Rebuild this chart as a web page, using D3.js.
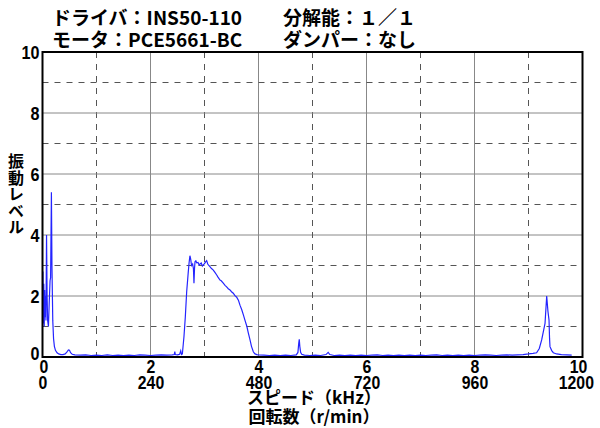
<!DOCTYPE html>
<html><head><meta charset="utf-8">
<script src="https://cdn.jsdelivr.net/npm/d3@7"></script>
<style>body{margin:0;background:#fff}svg{display:block}</style>
</head><body><svg id="c" width="600" height="428"></svg>
<script>
// ---- data ----
const freqKHz = [0.000,0.008,0.016,0.024,0.032,0.040,0.048,0.056,0.064,0.075,0.085,0.095,0.110,0.125,0.140,0.150,0.165,0.175,0.190,0.205,0.220,0.240,0.270,0.300,0.340,0.380,0.420,0.450,0.480,0.500,0.520,0.550,0.600,0.700,0.800,0.900,1.000,1.100,1.200,1.300,1.400,1.500,1.600,1.700,1.800,1.900,2.000,2.100,2.200,2.300,2.400,2.440,2.450,2.460,2.500,2.540,2.560,2.575,2.590,2.620,2.645,2.670,2.700,2.715,2.730,2.745,2.760,2.780,2.795,2.805,2.815,2.824,2.840,2.856,2.880,2.900,2.917,2.940,2.960,2.978,3.000,3.020,3.040,3.060,3.080,3.100,3.130,3.163,3.190,3.226,3.250,3.287,3.310,3.348,3.380,3.410,3.440,3.472,3.500,3.533,3.560,3.596,3.630,3.657,3.690,3.720,3.750,3.785,3.810,3.843,3.870,3.904,3.930,3.967,4.000,4.100,4.200,4.300,4.400,4.500,4.600,4.700,4.730,4.745,4.755,4.765,4.780,4.800,4.850,4.950,5.050,5.150,5.250,5.290,5.320,5.400,5.500,5.600,5.700,5.800,5.900,6.000,6.100,6.200,6.300,6.400,6.500,6.600,6.700,6.800,6.900,7.000,7.100,7.200,7.300,7.400,7.500,7.600,7.700,7.800,7.900,8.000,8.100,8.200,8.300,8.400,8.500,8.600,8.700,8.800,8.900,9.000,9.083,9.150,9.200,9.244,9.306,9.337,9.360,9.380,9.390,9.398,9.430,9.460,9.520,9.610,9.710,9.800,9.900,10.000];
const level = [1.0,2.8,1.1,2.4,1.0,2.2,1.3,2.0,1.2,4.0,2.0,1.2,1.0,1.8,2.5,2.6,5.4,3.0,1.2,0.6,0.35,0.22,0.14,0.10,0.08,0.08,0.10,0.16,0.23,0.22,0.14,0.09,0.07,0.06,0.07,0.05,0.06,0.05,0.07,0.05,0.06,0.05,0.06,0.05,0.07,0.06,0.05,0.06,0.07,0.06,0.07,0.08,0.18,0.08,0.07,0.09,0.20,0.08,0.10,0.67,1.32,2.14,2.80,3.10,3.32,3.20,3.00,3.05,2.90,2.42,2.90,3.12,3.15,3.09,3.10,3.02,3.05,3.08,2.98,3.02,3.06,3.12,3.16,3.05,3.00,2.96,2.90,2.85,2.78,2.69,2.62,2.52,2.50,2.42,2.35,2.30,2.24,2.20,2.14,2.09,2.02,1.96,1.85,1.70,1.55,1.38,1.20,1.00,0.80,0.56,0.35,0.17,0.11,0.08,0.07,0.06,0.05,0.06,0.05,0.06,0.05,0.07,0.15,0.45,0.58,0.35,0.15,0.09,0.06,0.05,0.06,0.05,0.08,0.15,0.08,0.05,0.06,0.05,0.06,0.05,0.06,0.05,0.06,0.07,0.05,0.06,0.05,0.06,0.05,0.06,0.05,0.06,0.05,0.06,0.07,0.05,0.06,0.05,0.06,0.05,0.06,0.05,0.06,0.07,0.06,0.05,0.06,0.07,0.06,0.07,0.08,0.10,0.12,0.14,0.28,0.56,1.10,2.00,1.50,1.21,0.61,0.34,0.21,0.14,0.10,0.08,0.07,0.06];
const xTicksKHz = [0,2,4,6,8,10];
const xTicksRpm = ["0","240","480","720","960","1200"];
const yTicks = [0,2,4,6,8,10];
const titleLeft = ["ドライバ：INS50-110","モータ：PCE5661-BC"];
const titleRight = ["分解能：１／１","ダンパー：なし"];
const yTitle = "振動レベル";
const xTitle1 = "スピード（kHz）";
const xTitle2 = "回転数（r/min）";

// ---- drawing ----
const svg = d3.select("#c");
const L = 42.5, R = 582.5, T = 52, B = 357;
const x = d3.scaleLinear().domain([0,10]).range([L,R]);
const y = d3.scaleLinear().domain([0,10]).range([B,T]);
const numFont = "'Liberation Sans',Arial,sans-serif";
const jpFont = "'Noto Sans CJK JP',sans-serif";

svg.append("rect").attr("width",600).attr("height",428).attr("fill","#fff");

// grid
const g = svg.append("g");
d3.range(1,10).forEach(v=>{
  const dashed = v%2===1;
  g.append("line").attr("x1",x(v)).attr("x2",x(v)).attr("y1",T).attr("y2",B)
    .attr("stroke",dashed?"#555":"#888").attr("stroke-width",1)
    .attr("stroke-dasharray",dashed?"6,6":null);
  g.append("line").attr("x1",L).attr("x2",R).attr("y1",y(v)).attr("y2",y(v))
    .attr("stroke",dashed?"#555":"#888").attr("stroke-width",1)
    .attr("stroke-dasharray",dashed?"6,6":null);
});

// line
svg.append("clipPath").attr("id","clip").append("rect").attr("x",L).attr("y",T).attr("width",R-L).attr("height",B-T);
const data = freqKHz.map((f,i)=>[f,level[i]]);
svg.append("path").datum(data).attr("clip-path","url(#clip)")
  .attr("fill","none").attr("stroke","#2424ff").attr("stroke-width",1.2)
  .attr("d",d3.line().x(d=>x(d[0])).y(d=>y(d[1])));

// frame
svg.append("rect").attr("x",L).attr("y",T).attr("width",R-L).attr("height",B-T)
  .attr("fill","none").attr("stroke","#000").attr("stroke-width",2);

// y axis labels
const ya = svg.append("g").attr("transform",`translate(${L-3},0)`)
  .call(d3.axisLeft(y).tickValues(yTicks).tickSize(0).tickPadding(0).tickFormat(d3.format("d")));
ya.select(".domain").remove();
ya.selectAll("text").attr("font-family",numFont).attr("font-weight","bold")
  .attr("font-size",19).attr("fill","#000").attr("transform","scale(0.85,1)")
  .attr("dy",d=>d===0?"0.12em":"0.36em");

// x axis labels (two rows)
const xa1 = svg.append("g").attr("transform",`translate(0,${B+3.7})`)
  .call(d3.axisBottom(x).tickValues(xTicksKHz).tickSize(0).tickPadding(0).tickFormat(d3.format("d")));
xa1.select(".domain").remove();
const xa2 = svg.append("g").attr("transform",`translate(0,${B+19.7})`)
  .call(d3.axisBottom(x).tickValues(xTicksKHz).tickSize(0).tickPadding(0).tickFormat((d,i)=>xTicksRpm[i]));
xa2.select(".domain").remove();
xa1.selectAll("text").attr("dx",d=>d===10?"-0.28em":(d===0?"0.05em":0));
xa2.selectAll("text").attr("dx",d=>d===10?"-0.42em":0);
[xa1,xa2].forEach(a=>a.selectAll("text").attr("font-family",numFont)
  .attr("font-weight","bold").attr("font-size",18).attr("fill","#000").attr("transform","scale(0.88,1)"));

// titles
const tg = svg.append("g").attr("font-family",jpFont).attr("font-weight","bold").attr("font-size",19).attr("fill","#000");
titleLeft.forEach((t,i)=>tg.append("text").attr("x",52).attr("y",25+i*21.5).text(t));
titleRight.forEach((t,i)=>tg.append("text").attr("x",283).attr("y",25+i*21.5).text(t));

// y title vertical
svg.append("text").attr("x",16).attr("y",153).attr("font-family",jpFont).attr("font-weight","bold")
  .attr("font-size",16).attr("writing-mode","vertical-rl").attr("letter-spacing","0.5px").text(yTitle);

// x titles
svg.append("text").attr("x",314).attr("y",404).attr("text-anchor","middle").attr("font-family",jpFont)
  .attr("font-weight","bold").attr("font-size",17).text(xTitle1);
svg.append("text").attr("x",314).attr("y",423).attr("text-anchor","middle").attr("font-family",jpFont)
  .attr("font-weight","bold").attr("font-size",17).text(xTitle2);
</script></body></html>
